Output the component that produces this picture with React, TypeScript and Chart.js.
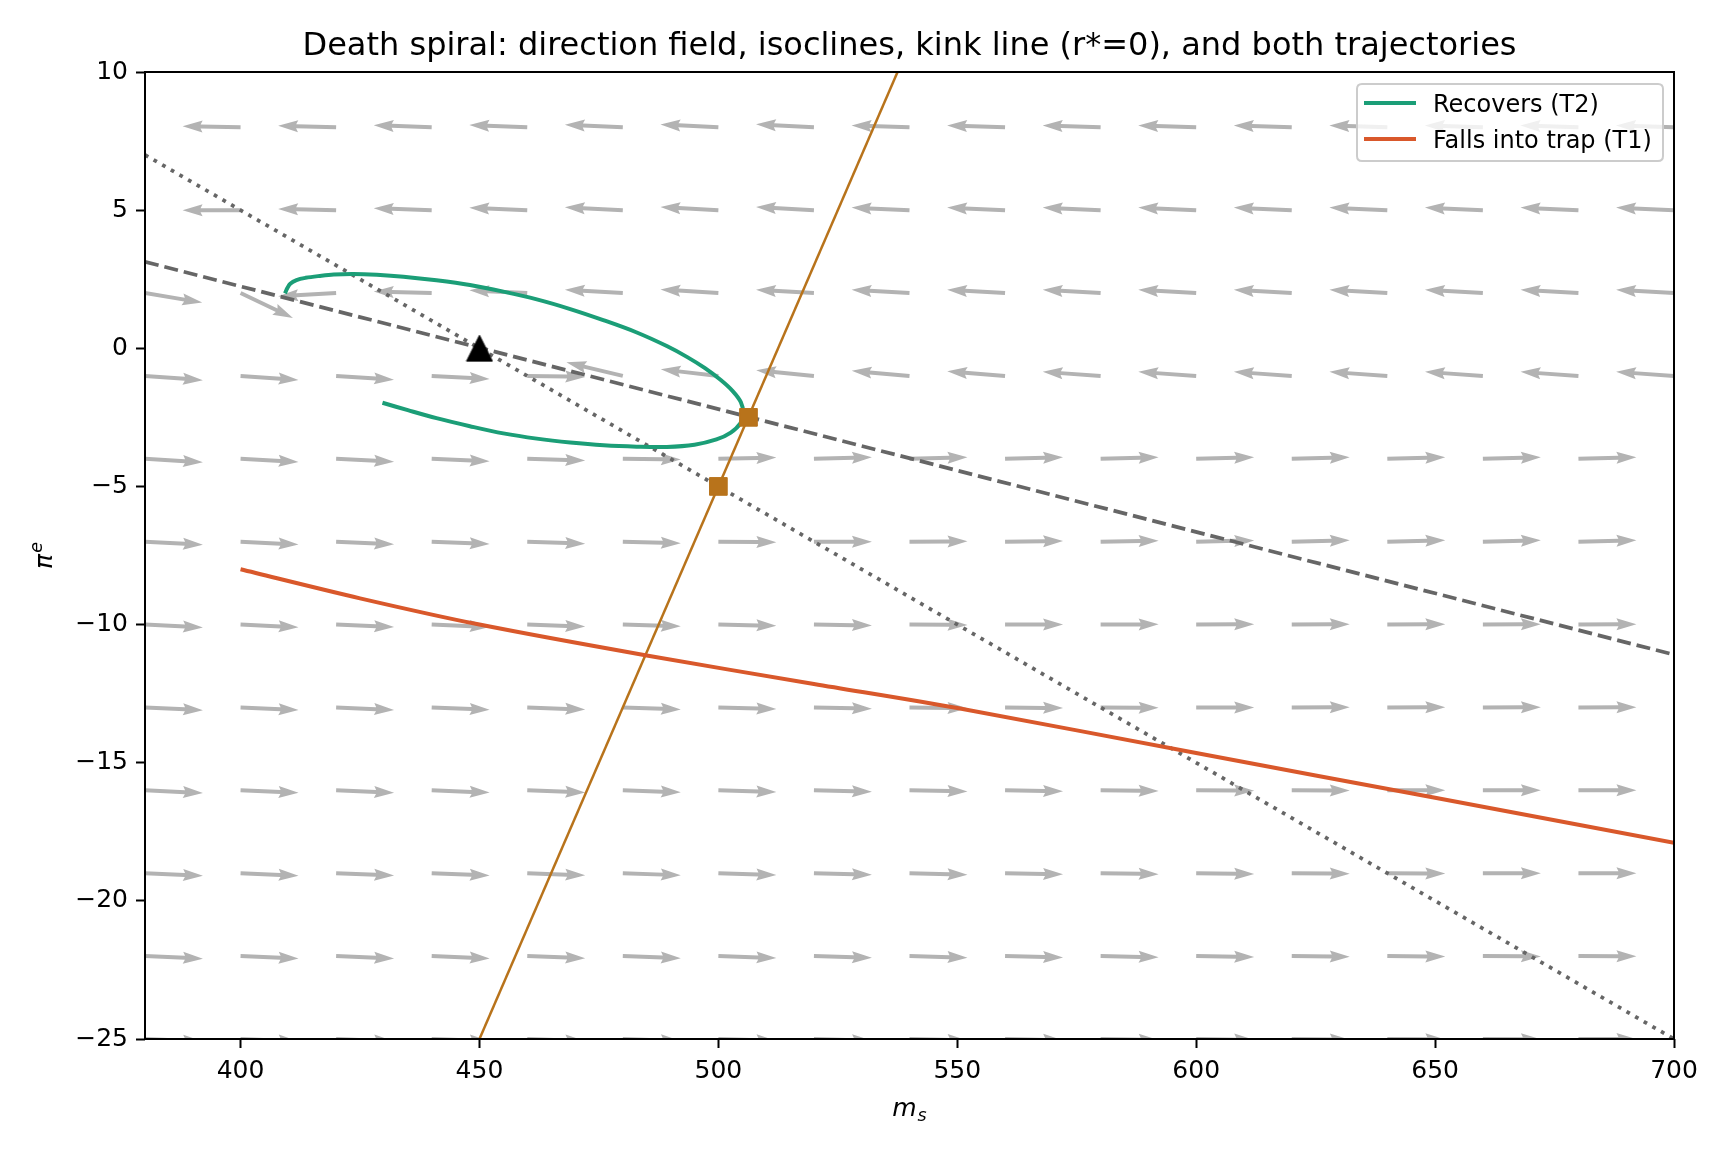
import React, { useEffect, useRef } from 'react';
import { Chart, registerables } from 'chart.js';

Chart.register(...registerables);

// ---------------- data ----------------
const xTicks = [400, 450, 500, 550, 600, 650, 700];
const yTicks = [-25, -20, -15, -10, -5, 0, 5, 10];

// direction-field grid (arrow tails) and arrow angles (degrees)
const fieldX = [380, 400, 420, 440, 460, 480, 500, 520, 540, 560, 580, 600, 620, 640, 660, 680, 700];
const fieldY = [8, 5, 2, -1, -4, -7, -10, -13, -16, -19, -22, -25];
const angRow8 = [179.6, 178.9, 178.4, 178.0, 177.7, 177.4, 177.2, 177.1, 178.2, 178.2, 178.2, 178.2, 178.2, 178.2, 178.2, 178.2, 178.2];
const angRow5 = [182.3, 180.0, 178.8, 178.1, 177.6, 177.2, 177.0, 176.8, 177.5, 177.5, 177.5, 177.5, 177.5, 177.5, 177.5, 177.5, 177.5];
const angRow2 = [-9.5, -25.4, 183.3, 178.6, 177.3, 176.7, 176.4, 176.8, 176.8, 176.8, 176.8, 176.8, 176.8, 176.8, 176.8, 176.8, 176.8];
const angRowM1 = [-4.2, -4.0, -3.7, -3.0, -1.0, 166.5, 173.5, 174.4, 175.0, 175.5, 176, 176, 176, 176, 176, 176, 176];
const angRowM4 = [-3.4, -3.1, -2.8, -2.4, -1.8, -0.8, 1.2, 1.5, 1.5, 1.5, 1.5, 1.5, 1.5, 1.5, 1.5, 1.5, 1.5];
const angRowM7 = [-3.0, -2.8, -2.6, -2.3, -2.0, -1.5, -0.5, 0, 0.4, 0.7, 1.0, 1.2, 1.3, 1.3, 1.3, 1.3, 1.3];
const angRowM10 = [-2.8, -2.7, -2.5, -2.3, -2.0, -1.75, -1.2, -0.8, -0.4, 0, 0.2, 0.4, 0.4, 0.4, 0.4, 0.4, 0.4];
const angRowM13 = [-2.7, -2.6, -2.4, -2.3, -2.1, -1.9, -1.5, -1.2, -0.9, -0.6, -0.3, 0, 0.2, 0.2, 0.2, 0.2, 0.2];
const angRowM16 = [-2.6, -2.5, -2.4, -2.25, -2.1, -1.9, -1.7, -1.4, -1.1, -0.9, -0.6, -0.3, -0.1, 0, 0, 0, 0];
const angRowM19 = [-2.55, -2.46, -2.35, -2.24, -2.1, -2.0, -1.8, -1.6, -1.4, -1.1, -0.9, -0.7, -0.5, -0.3, -0.1, 0, 0];
const angRowM22 = [-2.5, -2.43, -2.35, -2.25, -2.15, -2.0, -1.9, -1.7, -1.5, -1.3, -1.1, -0.9, -0.7, -0.5, -0.3, -0.1, 0];
const angRowM25 = [-2.5, -2.4, -2.35, -2.25, -2.1, -2.0, -1.9, -1.7, -1.5, -1.3, -1.1, -0.9, -0.7, -0.5, -0.3, -0.1, -0.1];
const fieldAngles = [angRow8, angRow5, angRow2, angRowM1, angRowM4, angRowM7, angRowM10, angRowM13, angRowM16, angRowM19, angRowM22, angRowM25];

// isoclines and kink line
const msIsoX = [380, 700];
const msIsoY = [3.13, -11.09];
const piIsoX = [380, 700];
const piIsoY = [7, -25];
const kinkX = [450, 537.5];
const kinkY = [-25, 10];

// equilibria (squares) and start point (triangle)
const eqX = [500, 506.3];
const eqY = [-5, -2.5];
const startX = [450];
const startY = [0];

// trajectories
const recoversX = [
  429.7, 435, 441, 448, 455, 462, 469, 476, 482.9, 489.2, 495, 499.6, 502.6, 504.6, 505.2,
  504.7, 503.0, 500.5, 497.2, 493.5, 489.2, 482.8, 475.9, 469, 462, 455, 448, 441, 434.1, 428.5,
  423.6, 419.5, 416.6, 413.6, 411.7, 410.4, 409.8, 409.3,
];
const recoversY = [
  -1.97, -2.24, -2.53, -2.82, -3.08, -3.27, -3.41, -3.51, -3.56, -3.57, -3.49, -3.3, -3.05, -2.72, -2.35,
  -1.95, -1.55, -1.15, -0.72, -0.32, 0.08, 0.58, 1.02, 1.42, 1.77, 2.05, 2.29, 2.46, 2.59, 2.66,
  2.69, 2.67, 2.62, 2.55, 2.47, 2.34, 2.18, 1.99,
];
const trapX = [400, 425, 450, 485, 520, 550, 600, 650, 700];
const trapY = [-8.0, -9.05, -10.0, -11.12, -12.15, -13.02, -14.65, -16.27, -17.9];

// ---------------- styles ----------------
const FONT = '"DejaVu Sans", "Liberation Sans", sans-serif';
const GREEN = '#1b9e77';
const RED = '#d9582b';
const ORANGE = '#b8731b';
const GRAY = '#666666';
const ARROW = '#b3b3b3';

const pts = (xs: number[], ys: number[]) => xs.map((x, i) => ({ x, y: ys[i] }));

function makeTriangle(): HTMLCanvasElement {
  const c = document.createElement('canvas');
  c.width = 28;
  c.height = 28;
  const g = c.getContext('2d')!;
  g.fillStyle = '#000';
  g.strokeStyle = '#000';
  g.lineWidth = 1;
  g.beginPath();
  g.moveTo(14, 1);
  g.lineTo(1, 27);
  g.lineTo(27, 27);
  g.closePath();
  g.fill();
  g.stroke();
  return c;
}

const fieldPlugin = {
  id: 'field',
  beforeDatasetsDraw(chart: any) {
    const { ctx, chartArea } = chart;
    const sx = chart.scales.x;
    const sy = chart.scales.y;
    const L = 58;
    const w = 4;
    ctx.save();
    ctx.beginPath();
    ctx.rect(chartArea.left, chartArea.top, chartArea.right - chartArea.left, chartArea.bottom - chartArea.top);
    ctx.clip();
    ctx.fillStyle = ARROW;
    fieldY.forEach((yv, r) => {
      fieldX.forEach((xv, c) => {
        const a = (fieldAngles[r][c] * Math.PI) / 180;
        const px = sx.getPixelForValue(xv);
        const py = sy.getPixelForValue(yv);
        ctx.save();
        ctx.translate(px, py);
        ctx.rotate(-a);
        ctx.beginPath();
        ctx.moveTo(0, -w / 2);
        ctx.lineTo(L - 4.5 * w, -w / 2);
        ctx.lineTo(L - 5 * w, -1.5 * w);
        ctx.lineTo(L, 0);
        ctx.lineTo(L - 5 * w, 1.5 * w);
        ctx.lineTo(L - 4.5 * w, w / 2);
        ctx.lineTo(0, w / 2);
        ctx.closePath();
        ctx.fill();
        ctx.restore();
      });
    });
    ctx.restore();
  },
};

const overlayPlugin = {
  id: 'overlay',
  afterDraw(chart: any) {
    const { ctx, chartArea } = chart;
    const { left, right, top, bottom } = chartArea;
    ctx.save();
    // frame
    ctx.strokeStyle = '#000';
    ctx.lineWidth = 2;
    ctx.strokeRect(left, top, right - left, bottom - top);

    // title
    ctx.fillStyle = '#000';
    ctx.font = `32px ${FONT}`;
    ctx.textAlign = 'center';
    ctx.textBaseline = 'alphabetic';
    ctx.fillText('Death spiral: direction field, isoclines, kink line (r*=0), and both trajectories', (left + right) / 2, 55);

    // x label m_s
    ctx.textAlign = 'left';
    const mainF = `italic 25px ${FONT}`;
    const subF = `italic 17.5px ${FONT}`;
    ctx.font = mainF;
    const wm = ctx.measureText('m').width;
    ctx.font = subF;
    const ws = ctx.measureText('s').width;
    const xl = (left + right) / 2 - (wm + ws + 1) / 2;
    ctx.font = mainF;
    ctx.fillText('m', xl, 1116);
    ctx.font = subF;
    ctx.fillText('s', xl + wm + 1, 1121);

    // y label pi^e
    ctx.save();
    ctx.translate(52, (top + bottom) / 2);
    ctx.rotate(-Math.PI / 2);
    ctx.font = mainF;
    const wp = ctx.measureText('π').width;
    ctx.font = subF;
    const we = ctx.measureText('e').width;
    const yl = -(wp + we + 1) / 2;
    ctx.font = mainF;
    ctx.fillText('π', yl, 0);
    ctx.font = subF;
    ctx.fillText('e', yl + wp + 1, -10);
    ctx.restore();

    // legend
    const items = [chart.data.datasets[2], chart.data.datasets[3]];
    const lx = 1357;
    const ly = 84;
    const lw = 306;
    const lh = 77;
    const rad = 5;
    ctx.beginPath();
    ctx.moveTo(lx + rad, ly);
    ctx.lineTo(lx + lw - rad, ly);
    ctx.quadraticCurveTo(lx + lw, ly, lx + lw, ly + rad);
    ctx.lineTo(lx + lw, ly + lh - rad);
    ctx.quadraticCurveTo(lx + lw, ly + lh, lx + lw - rad, ly + lh);
    ctx.lineTo(lx + rad, ly + lh);
    ctx.quadraticCurveTo(lx, ly + lh, lx, ly + lh - rad);
    ctx.lineTo(lx, ly + rad);
    ctx.quadraticCurveTo(lx, ly, lx + rad, ly);
    ctx.closePath();
    ctx.fillStyle = 'rgba(255,255,255,0.8)';
    ctx.fill();
    ctx.strokeStyle = '#cccccc';
    ctx.lineWidth = 2;
    ctx.stroke();
    ctx.font = `24px ${FONT}`;
    ctx.textBaseline = 'alphabetic';
    items.forEach((ds: any, i: number) => {
      const yy = 103 + i * 36;
      ctx.strokeStyle = ds.borderColor;
      ctx.lineWidth = 4;
      ctx.beginPath();
      ctx.moveTo(1364, yy);
      ctx.lineTo(1416, yy);
      ctx.stroke();
      ctx.fillStyle = '#000';
      ctx.fillText(ds.label, 1433, yy + 9);
    });
    ctx.restore();
  },
};

const minus = (v: number) => (v < 0 ? '\u2212' + String(-v) : String(v));

export default function App() {
  const ref = useRef<HTMLCanvasElement>(null);
  useEffect(() => {
    document.body.style.margin = '0';
    const tri = makeTriangle();
    const tickFont = { family: FONT, size: 25 };
    const chart = new Chart(ref.current!, {
      type: 'scatter',
      data: {
        datasets: [
          { label: 'start', data: pts(startX, startY), pointStyle: tri as any, pointRadius: 14, showLine: false },
          {
            label: 'equilibria',
            data: pts(eqX, eqY),
            pointStyle: 'rect',
            pointRadius: 12.5,
            backgroundColor: ORANGE,
            borderColor: ORANGE,
            borderWidth: 1,
            showLine: false,
          },
          {
            label: 'Recovers (T2)',
            data: pts(recoversX, recoversY),
            showLine: true,
            borderColor: GREEN,
            backgroundColor: GREEN,
            borderWidth: 4,
            pointRadius: 0,
            tension: 0.35,
          },
          {
            label: 'Falls into trap (T1)',
            data: pts(trapX, trapY),
            showLine: true,
            borderColor: RED,
            backgroundColor: RED,
            borderWidth: 4,
            pointRadius: 0,
            tension: 0.3,
          },
          {
            label: 'kink',
            data: pts(kinkX, kinkY),
            showLine: true,
            borderColor: ORANGE,
            borderWidth: 2.5,
            pointRadius: 0,
          },
          {
            label: 'ms isocline',
            data: pts(msIsoX, msIsoY),
            showLine: true,
            borderColor: GRAY,
            borderWidth: 3.75,
            borderDash: [14, 6],
            pointRadius: 0,
          },
          {
            label: 'pi isocline',
            data: pts(piIsoX, piIsoY),
            showLine: true,
            borderColor: GRAY,
            borderWidth: 3.75,
            borderDash: [3.75, 6.2],
            pointRadius: 0,
          },
        ],
      },
      options: {
        animation: false,
        responsive: false,
        events: [],
        layout: { padding: { left: 0, right: 54, top: 72, bottom: 0 } },
        plugins: { legend: { display: false }, title: { display: false }, tooltip: { enabled: false } },
        scales: {
          x: {
            type: 'linear',
            min: 380,
            max: 700,
            afterBuildTicks: (s: any) => {
              s.ticks = xTicks.map((v) => ({ value: v }));
            },
            afterFit: (s: any) => {
              s.height = 113;
            },
            grid: { display: true, drawOnChartArea: false, drawTicks: true, tickLength: 9, tickWidth: 2, tickColor: '#000' },
            border: { display: false },
            ticks: { font: tickFont, color: '#000', padding: 8, maxRotation: 0, autoSkip: false, callback: (v: any) => minus(Number(v)) },
          },
          y: {
            type: 'linear',
            min: -25,
            max: 10,
            afterBuildTicks: (s: any) => {
              s.ticks = yTicks.map((v) => ({ value: v }));
            },
            afterFit: (s: any) => {
              s.width = 145;
            },
            grid: { display: true, drawOnChartArea: false, drawTicks: true, tickLength: 9, tickWidth: 2, tickColor: '#000' },
            border: { display: false },
            ticks: { font: tickFont, color: '#000', padding: 8, autoSkip: false, callback: (v: any) => minus(Number(v)) },
          },
        },
      },
      plugins: [fieldPlugin, overlayPlugin],
    } as any);
    return () => chart.destroy();
  }, []);
  return (
    <div style={{ width: 1728, height: 1152 }}>
      <canvas ref={ref} width={1728} height={1152} style={{ display: 'block', width: 1728, height: 1152 }} />
    </div>
  );
}
